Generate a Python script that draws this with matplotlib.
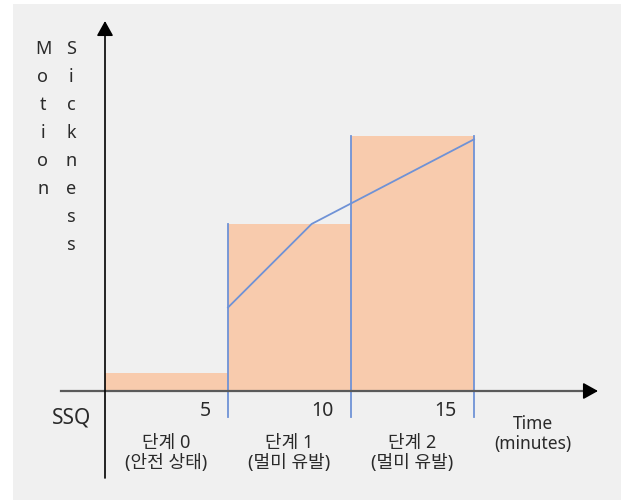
import matplotlib
matplotlib.use("Agg")
import matplotlib.pyplot as plt
from matplotlib.patches import Rectangle

plt.rcParams['font.family'] = ['Noto Sans', 'Noto Sans CJK KR', 'DejaVu Sans']

# ---- data ----
stage_edges = [0, 5, 10, 15]            # minutes
stage_levels = [0.51, 4.64, 7.08]       # SSQ level of each stage (arbitrary units)
curve_t = [5, 8.4, 15]                  # motion sickness curve (minutes)
curve_v = [2.32, 4.64, 6.99]            # motion sickness curve values
tick_vals = [5, 10, 15]
tick_labels = ["5", "10", "15"]
stage_names = ["단계 0\n(안전 상태)", "단계 1\n(멀미 유발)", "단계 2\n(멀미 유발)"]
y_label_1 = "Motion"
y_label_2 = "Sickness"

# ---- figure ----
W, H = 621, 500
fig = plt.figure(figsize=(W / 100, H / 100), dpi=100)
fig.patch.set_facecolor("white")
ax = fig.add_axes([0, 0, 1, 1])
ax.set_facecolor("none")
ax.axis("off")
ax.add_patch(Rectangle((13 / W, 0), 1, 496 / H, transform=ax.transAxes,
                       facecolor="#f0f0f0", edgecolor="none", zorder=0,
                       clip_on=False))

ppx = 24.6   # px per minute
ppy = 36.0   # px per unit
x0, y0 = 105, 391
ax.set_xlim(-x0 / ppx, (W - x0) / ppx)
ax.set_ylim((y0 - H) / ppy, y0 / ppy)

bar_color = "#F8CBAD"
blue = "#6f92d6"
txt = "#2a2a2a"

# bars
lefts = stage_edges[:-1]
widths = [stage_edges[i + 1] - stage_edges[i] for i in range(len(lefts))]
ax.bar(lefts, stage_levels, width=widths, align="edge", color=bar_color,
       edgecolor="none", zorder=1)

# vertical stage boundaries
bottom_v = (y0 - 417) / ppy
for i, t in enumerate(stage_edges[1:]):
    top = max(stage_levels[i], stage_levels[i + 1] if i + 1 < len(stage_levels) else 0)
    ax.plot([t, t], [bottom_v, top], color=blue, lw=1.3, zorder=3)

# curve
ax.plot(curve_t, curve_v, color=blue, lw=1.3, zorder=3)

# x axis
ax.plot([(61 - x0) / ppx, (588 - x0) / ppx], [0, 0], color="#5a5a5a", lw=1.6, zorder=4)
ax.annotate("", xy=((598 - x0) / ppx, 0), xytext=((585 - x0) / ppx, 0),
            arrowprops=dict(arrowstyle="-|>,head_length=0.45,head_width=0.25",
                            color="black", lw=1.2, mutation_scale=20,
                            shrinkA=0, shrinkB=0), zorder=5)
# y axis
ax.annotate("", xy=(0, (y0 - 21) / ppy), xytext=(0, (y0 - 478) / ppy),
            arrowprops=dict(arrowstyle="-|>,head_length=0.45,head_width=0.25",
                            color="black", lw=1.2, mutation_scale=20,
                            shrinkA=0, shrinkB=0), zorder=5)

# tick labels
for v, lab in zip(tick_vals, tick_labels):
    ax.text(v - 0.7, (y0 - 411) / ppy, lab, ha="right", va="center",
            fontsize=14, color=txt)

# stage labels
for i, name in enumerate(stage_names):
    c = (stage_edges[i] + stage_edges[i + 1]) / 2
    ax.text(c, (y0 - 453) / ppy, name, ha="center", va="center",
            fontsize=13, color=txt, linespacing=1.1)

ax.text((72 - x0) / ppx, (y0 - 418) / ppy, "SSQ", ha="center", va="center",
        fontsize=15, color=txt)
ax.text((533 - x0) / ppx, (y0 - 434) / ppy, "Time\n(minutes)", ha="center",
        va="center", fontsize=12.5, color=txt, linespacing=1.1)

# vertical y label letters
for j, (lbl, xp) in enumerate([(y_label_1, 43), (y_label_2, 71)]):
    for i, ch in enumerate(lbl):
        ax.text((xp - x0) / ppx, (y0 - 49 - 28 * i) / ppy, ch, ha="center",
                va="center", fontsize=13, color=txt)

fig.savefig("out.png", dpi=100, facecolor=fig.get_facecolor())
